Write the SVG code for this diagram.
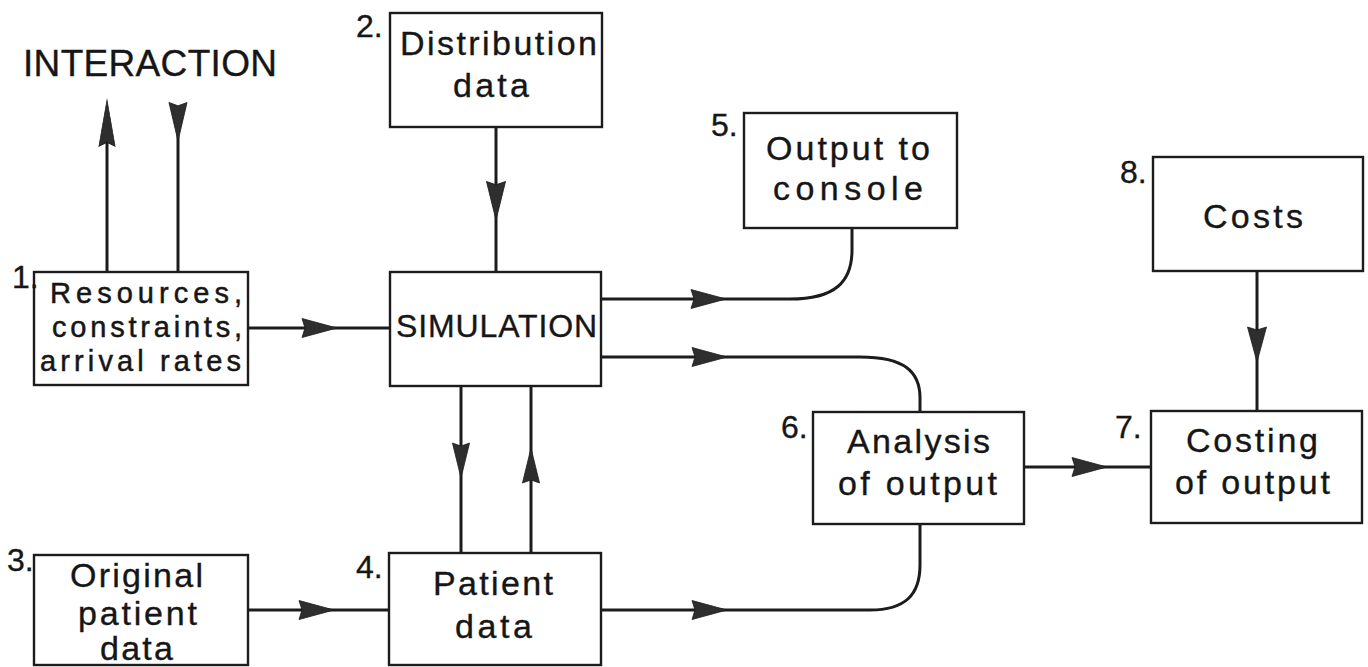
<svg xmlns="http://www.w3.org/2000/svg" xmlns:xlink="http://www.w3.org/1999/xlink" width="1368" height="667" viewBox="0 0 1368 667">
  <style>
    .box { fill: #ffffff; stroke: #1c1c1c; stroke-width: 2.4; }
    .txt { font-family: "Liberation Sans", Arial, sans-serif; font-size: 34px; fill: #161616; stroke: #161616; stroke-width: 0.35; }
    .tight { font-size: 29px; stroke-width: 0.5; }
    .num { font-family: "Liberation Sans", Arial, sans-serif; font-size: 32px; fill: #161616; stroke: #161616; stroke-width: 0.35; }
    .wire { fill: none; stroke: #1c1c1c; stroke-width: 3; }
    .head { fill: #2e2e2e; stroke: #1c1c1c; stroke-width: 0.8; }
  </style>
  <defs>
    <!-- long, narrow arrowhead pointing right, tip at the origin -->
    <path id="head" class="head" d="M0,0 L-35,-9.5 L-32,0 L-35,9.5 Z"/>
  </defs>
  <rect width="1368" height="667" fill="#ffffff"/>

  <text class="txt" x="23" y="76" textLength="254" lengthAdjust="spacing" style="font-size:37px">INTERACTION</text>

  <!-- connectors -->
  <g id="connectors">
    <!-- 1 <-> interaction -->
    <line class="wire" x1="107" y1="272" x2="107" y2="110"/>
    <use xlink:href="#head" transform="translate(107,100) rotate(-90) scale(1.32,0.85)"/>
    <line class="wire" x1="178" y1="110" x2="178" y2="272"/>
    <use xlink:href="#head" transform="translate(178,141) rotate(90) scale(1.1,0.95)"/>
    <!-- 1 -> simulation -->
    <line class="wire" x1="248" y1="328" x2="390" y2="328"/>
    <use xlink:href="#head" transform="translate(337,328)"/>
    <!-- 2 -> simulation -->
    <line class="wire" x1="496" y1="127" x2="496" y2="272"/>
    <use xlink:href="#head" transform="translate(496,220) rotate(90) scale(1.1,1)"/>
    <!-- simulation -> 5 -->
    <path class="wire" d="M601,299 H790 C835,299 852,282 852,250 V228"/>
    <use xlink:href="#head" transform="translate(726,299)"/>
    <!-- simulation -> 6 -->
    <path class="wire" d="M601,357 H860 C905,357 920,372 920,398 V412"/>
    <use xlink:href="#head" transform="translate(727,357)"/>
    <!-- simulation <-> 4 -->
    <line class="wire" x1="461" y1="386" x2="461" y2="553"/>
    <use xlink:href="#head" transform="translate(461,478) rotate(90) scale(1,0.9)"/>
    <line class="wire" x1="531" y1="553" x2="531" y2="386"/>
    <use xlink:href="#head" transform="translate(531,448) rotate(-90) scale(1,0.9)"/>
    <!-- 3 -> 4 -->
    <line class="wire" x1="248" y1="610" x2="389" y2="610"/>
    <use xlink:href="#head" transform="translate(334,610)"/>
    <!-- 4 -> 6 -->
    <path class="wire" d="M601,610 H870 C905,610 920,595 920,565 V524"/>
    <use xlink:href="#head" transform="translate(727,610)"/>
    <!-- 6 -> 7 -->
    <line class="wire" x1="1024" y1="467" x2="1151" y2="467"/>
    <use xlink:href="#head" transform="translate(1107,467)"/>
    <!-- 8 -> 7 -->
    <line class="wire" x1="1257" y1="271" x2="1257" y2="411"/>
    <use xlink:href="#head" transform="translate(1257,362) rotate(90)"/>
  </g>

  <g id="node1">
    <rect class="box" x="34" y="272" width="214" height="113"/>
    <text class="num" x="12" y="288">1.</text>
    <text class="txt tight" x="50" y="303" textLength="192" lengthAdjust="spacing">Resources,</text>
    <text class="txt tight" x="52" y="337" textLength="190" lengthAdjust="spacing">constraints,</text>
    <text class="txt tight" x="40" y="371" textLength="201" lengthAdjust="spacing">arrival rates</text>
  </g>

  <g id="node2">
    <rect class="box" x="390" y="13" width="212" height="114"/>
    <text class="num" x="356" y="37">2.</text>
    <text class="txt" x="400" y="55" textLength="197" lengthAdjust="spacing">Distribution</text>
    <text class="txt" x="453" y="97" textLength="76" lengthAdjust="spacing">data</text>
  </g>

  <g id="simulation">
    <rect class="box" x="390" y="272" width="211" height="114"/>
    <text class="txt" x="396" y="337" textLength="201" lengthAdjust="spacing" style="font-size:32px">SIMULATION</text>
  </g>

  <g id="node3">
    <rect class="box" x="34" y="555" width="214" height="110"/>
    <text class="num" x="7" y="571">3.</text>
    <text class="txt" x="70" y="587" textLength="133" lengthAdjust="spacing">Original</text>
    <text class="txt" x="78" y="625" textLength="119" lengthAdjust="spacing">patient</text>
    <text class="txt" x="100" y="660" textLength="73" lengthAdjust="spacing">data</text>
  </g>

  <g id="node4">
    <rect class="box" x="389" y="553" width="212" height="112"/>
    <text class="num" x="356" y="578">4.</text>
    <text class="txt" x="433" y="595" textLength="120" lengthAdjust="spacing">Patient</text>
    <text class="txt" x="455" y="638" textLength="77" lengthAdjust="spacing">data</text>
  </g>

  <g id="node5">
    <rect class="box" x="744" y="113" width="213" height="115"/>
    <text class="num" x="711" y="136">5.</text>
    <text class="txt" x="766" y="160" textLength="164" lengthAdjust="spacing">Output to</text>
    <text class="txt" x="773" y="200" textLength="150" lengthAdjust="spacing">console</text>
  </g>

  <g id="node6">
    <rect class="box" x="813" y="412" width="211" height="112"/>
    <text class="num" x="781" y="438">6.</text>
    <text class="txt" x="847" y="453" textLength="143" lengthAdjust="spacing">Analysis</text>
    <text class="txt" x="838" y="495" textLength="159" lengthAdjust="spacing">of output</text>
  </g>

  <g id="node7">
    <rect class="box" x="1151" y="411" width="211" height="112"/>
    <text class="num" x="1115" y="438">7.</text>
    <text class="txt" x="1186" y="452" textLength="132" lengthAdjust="spacing">Costing</text>
    <text class="txt" x="1175" y="494" textLength="155" lengthAdjust="spacing">of output</text>
  </g>

  <g id="node8">
    <rect class="box" x="1153" y="157" width="210" height="114"/>
    <text class="num" x="1120" y="183">8.</text>
    <text class="txt" x="1203" y="228" textLength="100" lengthAdjust="spacing">Costs</text>
  </g>
</svg>
